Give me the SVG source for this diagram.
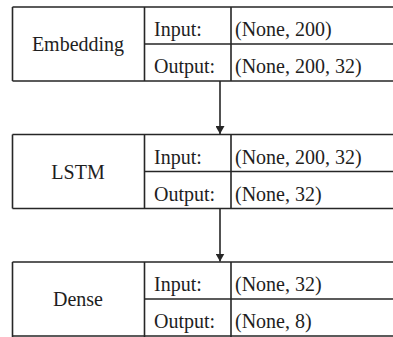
<svg xmlns="http://www.w3.org/2000/svg" width="393" height="337" viewBox="0 0 393 337">
<defs>
<style>
.ln{stroke:#262626;stroke-width:1.6;fill:none}
.t{font-family:'Liberation Serif','Times New Roman',Times,serif;font-size:20px;fill:#1e1e1e}
.c{text-anchor:middle}
</style>
<marker id="ah" viewBox="0 0 8 9" refX="8" refY="4.5" markerWidth="8" markerHeight="9" markerUnits="userSpaceOnUse" orient="auto">
<path d="M0,0 L8,4.5 L0,9 Z" fill="#262626"/>
</marker>
</defs>
<rect width="393" height="337" fill="#fff"/>
<g id="embedding">
<path class="ln" d="M12.5,7 H400 M12.5,81 H400 M12.5,7 V81 M144.5,7 V81 M231,7 V81 M144.5,44 H400"/>
<text class="t c" x="78" y="51">Embedding</text>
<text class="t" x="154" y="36">Input:</text>
<text class="t" x="154" y="73">Output:</text>
<text class="t" x="235" y="36">(None, 200)</text>
<text class="t" x="235" y="73">(None, 200, 32)</text>
</g>
<g id="lstm">
<path class="ln" d="M12.5,134.5 H400 M12.5,208.5 H400 M12.5,134.5 V208.5 M144.5,134.5 V208.5 M231,134.5 V208.5 M144.5,171.5 H400"/>
<text class="t c" x="78" y="178.5">LSTM</text>
<text class="t" x="154" y="163.5">Input:</text>
<text class="t" x="154" y="200.5">Output:</text>
<text class="t" x="235" y="163.5">(None, 200, 32)</text>
<text class="t" x="235" y="200.5">(None, 32)</text>
</g>
<g id="dense">
<path class="ln" d="M12.5,262 H400 M12.5,336 H400 M12.5,262 V340 M144.5,262 V340 M231,262 V340 M144.5,299 H400"/>
<text class="t c" x="78" y="306">Dense</text>
<text class="t" x="154" y="291">Input:</text>
<text class="t" x="154" y="328">Output:</text>
<text class="t" x="235" y="291">(None, 32)</text>
<text class="t" x="235" y="328">(None, 8)</text>
</g>
<g id="connectors">
<line class="ln" x1="220" y1="81" x2="220" y2="134" marker-end="url(#ah)"/>
<line class="ln" x1="220" y1="208.5" x2="220" y2="261.5" marker-end="url(#ah)"/>
</g>
</svg>
